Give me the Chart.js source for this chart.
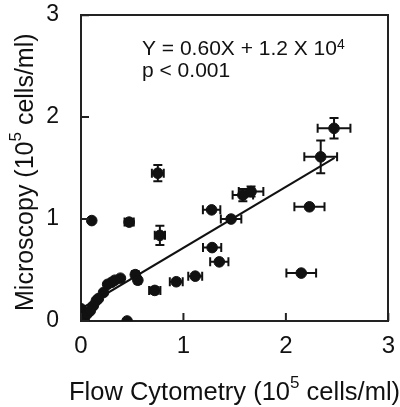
<!DOCTYPE html>
<html>
<head>
<meta charset="utf-8">
<script src="https://cdn.jsdelivr.net/npm/chart.js@4/dist/chart.umd.min.js"></script>
<style>
body { margin: 0; background: #fff; }
</style>
</head>
<body>
<canvas id="moncanvas" width="400" height="407"></canvas>
<script>
// counts in 10^5 cells/ml
const flow = [2.47, 2.34, 0.75, 1.58, 1.66, 1.275, 1.465, 2.23, 0.105, 0.47,
    0.77, 1.28, 1.35, 2.15, 1.115, 0.93, 0.72, 0.53, 0.555, 0.385,
    0.30, 0.22, 0.17, 0.12, 0.0, 0.0, 0.0, 0.03, 0.06, 0.09,
    0.15, 0.26, 0.33, 0.45];
const micro = [1.89, 1.61, 1.45, 1.235, 1.27, 1.09, 1.0, 1.12, 0.985, 0.97,
    0.84, 0.72, 0.58, 0.47, 0.44, 0.385, 0.30, 0.455, 0.40, 0.42,
    0.38, 0.28, 0.22, 0.15, 0.0, 0.05, 0.12, 0.02, 0.07, 0.10,
    0.20, 0.36, 0.40, 0.0];
const flowErr = [0.16, 0.16, 0.058, 0.10, 0.12, 0.085, 0.10, 0.147, 0, 0.045,
    0.05, 0.089, 0.089, 0.145, 0.068, 0.063, 0.055, 0.03, 0.03, 0,
    0, 0, 0, 0, 0, 0, 0, 0, 0, 0,
    0, 0, 0, 0];
const microErr = [0.10, 0.16, 0.08, 0.06, 0.05, 0, 0, 0, 0, 0.03,
    0.095, 0, 0, 0, 0, 0, 0.03, 0.03, 0, 0,
    0, 0, 0, 0, 0, 0, 0, 0, 0, 0,
    0, 0, 0, 0];
// regression line ends
const lineX = [0.0, 2.475];
const lineY = [0.12, 1.60];
const tickVals = [0, 1, 2, 3];

const points = flow.map((v, i) => ({x: v, y: micro[i]}));
const regLine = lineX.map((v, i) => ({x: v, y: lineY[i]}));

const fam = '"Liberation Sans", Arial, sans-serif';
const ink = '#111';
const edge = {display: true, color: '#222', width: 2};

const errorBars = {
    id: 'errorBars',
    beforeDatasetsDraw(chart) {
        const ctx = chart.ctx;
        const sx = chart.scales.x, sy = chart.scales.y;
        const cap = 4.5;
        ctx.save();
        ctx.strokeStyle = ink;
        ctx.lineWidth = 2;
        for (let i = 0; i < flow.length; i++) {
            const px = sx.getPixelForValue(flow[i]);
            const py = sy.getPixelForValue(micro[i]);
            if (flowErr[i] > 0) {
                const a = sx.getPixelForValue(flow[i] - flowErr[i]);
                const b = sx.getPixelForValue(flow[i] + flowErr[i]);
                ctx.beginPath();
                ctx.moveTo(a, py); ctx.lineTo(b, py);
                ctx.moveTo(a, py - cap); ctx.lineTo(a, py + cap);
                ctx.moveTo(b, py - cap); ctx.lineTo(b, py + cap);
                ctx.stroke();
            }
            if (microErr[i] > 0) {
                const a = sy.getPixelForValue(micro[i] - microErr[i]);
                const b = sy.getPixelForValue(micro[i] + microErr[i]);
                ctx.beginPath();
                ctx.moveTo(px, a); ctx.lineTo(px, b);
                ctx.moveTo(px - cap, a); ctx.lineTo(px + cap, a);
                ctx.moveTo(px - cap, b); ctx.lineTo(px + cap, b);
                ctx.stroke();
            }
        }
        ctx.restore();
    }
};

function textParts(ctx, parts, x, y, size, supSize, rise) {
    let cx = x;
    for (const p of parts) {
        ctx.font = (p.sup ? supSize : size) + 'px ' + fam;
        ctx.fillText(p.t, cx, p.sup ? y - rise : y);
        cx += ctx.measureText(p.t).width;
    }
}

const labels = {
    id: 'labels',
    afterDraw(chart) {
        const ctx = chart.ctx;
        const a = chart.chartArea;
        const sx = chart.scales.x, sy = chart.scales.y;
        ctx.save();
        // inward ticks
        ctx.strokeStyle = '#222';
        ctx.lineWidth = 2;
        ctx.beginPath();
        for (const v of tickVals) {
            const px = sx.getPixelForValue(v);
            ctx.moveTo(px, a.bottom); ctx.lineTo(px, a.bottom - 8);
            const py = sy.getPixelForValue(v);
            ctx.moveTo(a.left, py); ctx.lineTo(a.left + 8, py);
        }
        ctx.stroke();

        ctx.fillStyle = ink;
        ctx.textAlign = 'left';
        ctx.textBaseline = 'alphabetic';
        // fit equation
        textParts(ctx, [{t: 'Y = 0.60X + 1.2 X 10'}, {t: '4', sup: true}], 142, 55, 21, 14, 6);
        textParts(ctx, [{t: 'p < 0.001'}], 142, 77, 21, 14, 0);

        // x title
        textParts(ctx, [{t: 'Flow Cytometry (10'}, {t: '5', sup: true}, {t: ' cells/ml)'}],
            69, 400, 25.5, 17, 12);

        // y title, rotated
        ctx.translate(33, 311);
        ctx.rotate(-Math.PI / 2);
        textParts(ctx, [{t: 'Microscopy (10'}, {t: '5', sup: true}, {t: ' cells/ml)'}],
            0, 0, 25, 17, 12);
        ctx.restore();
    }
};

const config = {
    type: 'scatter',
    data: {
        datasets: [{
            label: 'samples',
            data: points,
            backgroundColor: ink,
            borderColor: ink,
            borderWidth: 1,
            pointRadius: 5.3,
            pointHoverRadius: 5.3
        }, {
            type: 'line',
            label: 'fit',
            data: regLine,
            borderColor: ink,
            borderWidth: 2,
            pointRadius: 0,
            fill: false
        }]
    },
    options: {
        responsive: false,
        animation: false,
        events: [],
        layout: {padding: {top: 8, right: 9, left: 0, bottom: 0}},
        plugins: {legend: {display: false}, tooltip: {enabled: false}},
        scales: {
            x: {
                type: 'linear', min: 0, max: 3,
                afterBuildTicks: s => { s.ticks = tickVals.map(v => ({value: v})); },
                afterFit: s => { s.height = 86; },
                grid: {display: false},
                border: edge,
                ticks: {padding: 5, color: ink, font: {family: fam, size: 24, lineHeight: 1}}
            },
            y: {
                type: 'linear', min: 0, max: 3,
                afterBuildTicks: s => { s.ticks = tickVals.map(v => ({value: v})); },
                afterFit: s => { s.width = 81; },
                grid: {display: false},
                border: edge,
                ticks: {padding: 14, color: ink, font: {family: fam, size: 23, lineHeight: 0.1}}
            },
            // top and right edges of the box
            x2: {
                type: 'linear', position: 'top', min: 0, max: 3,
                afterFit: s => { s.height = 0; },
                grid: {display: false},
                border: edge,
                ticks: {display: false}
            },
            y2: {
                type: 'linear', position: 'right', min: 0, max: 3,
                afterFit: s => { s.width = 0; },
                grid: {display: false},
                border: edge,
                ticks: {display: false}
            }
        }
    },
    plugins: [errorBars, labels]
};

const myChart = new Chart(document.querySelector('#moncanvas'), config);
</script>
</body>
</html>
